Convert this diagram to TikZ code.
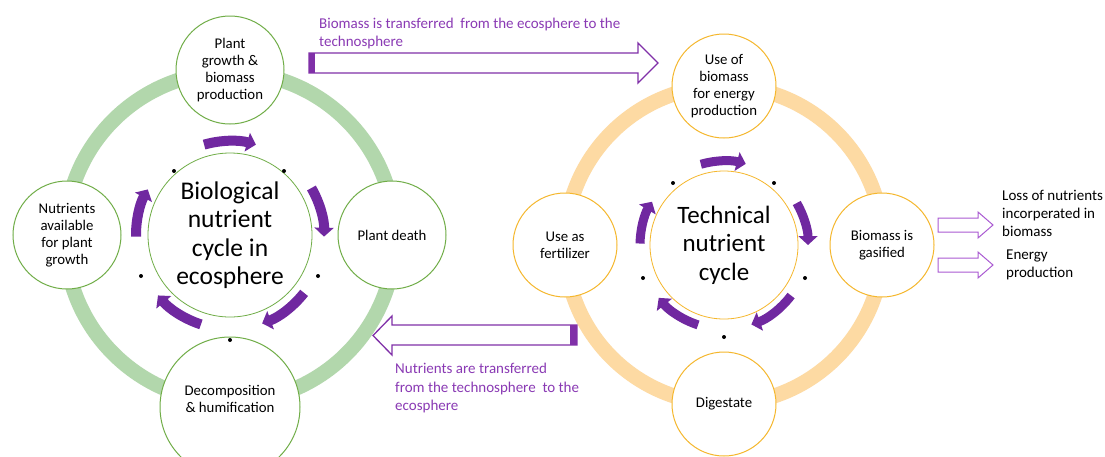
\documentclass[tikz,border=0pt]{standalone}
\usepackage{fontspec}
\setmainfont{Carlito}
\usetikzlibrary{arrows.meta,calc}
\definecolor{grn}{RGB}{112,173,71}
\definecolor{grnring}{RGB}{178,215,172}
\definecolor{org}{RGB}{245,183,45}
\definecolor{orgring}{RGB}{253,218,163}
\definecolor{purp}{RGB}{112,40,160}
\definecolor{ptext}{RGB}{138,58,180}
\definecolor{parrow}{RGB}{128,48,168}
\definecolor{plight}{RGB}{170,90,210}
\begin{document}
\begin{tikzpicture}[x=1pt,y=-1pt,
  nodetext/.style={font=\fontsize{14.8}{17}\selectfont, align=center},
  gnode/.style={circle, draw=grn, line width=1pt, fill=white, inner sep=0pt, nodetext},
  onode/.style={circle, draw=org, line width=1pt, fill=white, inner sep=0pt, nodetext},
  hub/.style={circle, fill=white, line width=0.8pt, inner sep=0pt, align=center},
  cyc/.style={draw=purp, line width=#1, -{Triangle[length=9pt,width=19pt]}},
  ann/.style={text=ptext, font=\fontsize{15}{18.5}\selectfont, align=left, inner sep=0pt, anchor=west},
  annb/.style={text=black, font=\fontsize{15}{18}\selectfont, align=left, inner sep=0pt, anchor=west},
  bigarrow/.style={draw=parrow, line width=1.3pt, fill=white, line join=miter},
  smallarrow/.style={draw=plight, line width=1pt, fill=white, line join=miter}
]
\useasboundingbox (0,0) rectangle (1105,456);
\clip (0,0) rectangle (1105,456);
\fill[white] (0,0) rectangle (1105,456);

% rings
\draw[grnring, line width=15pt] (230,237) circle[radius=165];
\draw[orgring, line width=15pt] (724,245) circle[radius=159];

% left cycle nodes
\node[gnode, minimum size=108pt] (pg) at (230,70) {Plant\\growth \&\\biomass\\production};
\node[gnode, minimum size=108pt] (na) at (67,235) {Nutrients\\available\\for plant\\growth};
\node[gnode, minimum size=108pt] (pd) at (392,235) {Plant death};
\node[gnode, minimum size=140pt] (dh) at (230,407) {};
\node[nodetext, inner sep=0pt] (dht) at ($(dh.center)+(0,-8)$) {Decomposition\\\& humification};

% right cycle nodes
\node[onode, minimum size=104pt] (ub) at (724,86) {Use of\\biomass\\for energy\\production};
\node[onode, minimum size=104pt] (uf) at (565,245) {Use as\\fertilizer};
\node[onode, minimum size=104pt] (bg) at (882,245) {Biomass is\\gasified};
\node[onode, minimum size=104pt] (dg) at (724,404) {Digestate};

% hubs
\node[hub, draw=grn, minimum size=164pt, font=\fontsize{25.5}{28.5}\selectfont] (bio) at (230,235) {Biological\\nutrient\\cycle in\\ecosphere};
\node[hub, draw=org, minimum size=148pt, font=\fontsize{25}{28.5}\selectfont] (tech) at (724,245) {Technical\\nutrient\\cycle};

% circular arrows
\foreach \a/\b in {-106/-74, -30/1, 38/70, 108/140, -181/-151}
  \draw[cyc=10pt] ($(bio.center)+(\a:94)$) arc[start angle=\a, end angle=\b, radius=94];
\foreach \a/\b in {-106/-75, -30/0, 37/71, 108/141, -179/-149}
  \draw[cyc=9pt] ($(tech.center)+(\a:84)$) arc[start angle=\a, end angle=\b, radius=84];

% dots
\foreach \p in {(174,171),(284,171),(318,276),(230,340),(141,276),
                (673,183),(774,183),(805,278),(724,337),(643,278)}
  \fill[black] \p circle[radius=2];

% transfer arrows
\draw[bigarrow] (309,53) -- (638,53) -- (638,43) -- (658,63) -- (638,83) -- (638,73) -- (309,73) -- cycle;
\fill[parrow] (309,53) rectangle (315,73);
\draw[bigarrow] (577,325) -- (392,325) -- (392,316) -- (373,335.5) -- (392,355) -- (392,345) -- (577,345) -- cycle;
\fill[parrow] (570,325) rectangle (577,345);

\draw[smallarrow] (938,218) -- (978,218) -- (978,212) -- (993,225) -- (978,238) -- (978,232) -- (938,232) -- cycle;
\draw[smallarrow] (938,258) -- (978,258) -- (978,252) -- (993,265) -- (978,278) -- (978,272) -- (938,272) -- cycle;

% annotations
\node[ann] (t1) at (319,33.5) {Biomass is transferred\ \ from the ecosphere to the\\technosphere};
\node[ann] (t2) at (395,388) {Nutrients are transferred\\from the technosphere\ \ to the\\ecosphere};
\node[annb] (t3) at (1002,213) {Loss of nutrients\\incorperated in\\biomass};
\node[annb] (t4) at (1006,264.5) {Energy\\production};
\end{tikzpicture}
\end{document}
